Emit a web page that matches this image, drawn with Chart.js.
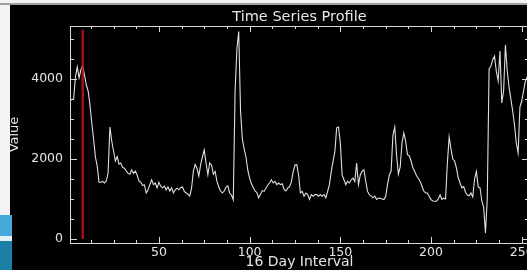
<!DOCTYPE html>
<html><head><meta charset="utf-8">
<script src="https://cdn.jsdelivr.net/npm/chart.js@4.4.0/dist/chart.umd.min.js"></script>
<style>
html,body{margin:0;padding:0;width:527px;height:270px;overflow:hidden;background:#f3f3f3;}
#wrap{position:absolute;left:10px;top:5px;width:540px;height:265px;background:#000;}
#topline{position:absolute;left:0;top:3px;width:527px;height:2px;background:#a0a0a0;}
#b1{position:absolute;left:0;top:215px;width:12px;height:21px;background:#45a9d9;}
#b2{position:absolute;left:0;top:236px;width:12px;height:5px;background:#e4f1f6;}
#b3{position:absolute;left:0;top:241px;width:12px;height:29px;background:#1c7fa6;}
</style></head>
<body>
<div id="topline"></div>
<div id="wrap"><canvas id="c" width="540" height="265"></canvas></div>
<div id="b1"></div><div id="b2"></div><div id="b3"></div>
<script>
const values = [
3480,3480,3500,4050,4300,4030,4230,4320,4100,3850,
3700,3350,2900,2500,2050,1820,1420,1420,1440,1400,
1450,1650,2800,2450,2200,1950,2060,1870,1900,1790,
1770,1700,1640,1620,1730,1640,1700,1600,1450,1420,
1340,1350,1150,1230,1360,1480,1360,1400,1280,1420,
1320,1280,1320,1230,1300,1200,1280,1150,1230,1270,
1230,1290,1300,1190,1150,1120,1070,1270,1700,1860,
1770,1570,1860,2050,2230,1900,1610,1900,1850,1620,
1690,1440,1300,1200,1150,1200,1300,1330,1150,1100,
980,3700,4750,5190,3200,2500,2250,2050,1720,1520,
1380,1290,1200,1160,1030,1120,1210,1190,1270,1350,
1400,1480,1400,1440,1360,1400,1360,1380,1240,1200,
1270,1310,1420,1680,1850,1860,1600,1150,1190,1070,
1150,1110,990,1110,1070,1110,1110,1070,1110,1070,
1110,1030,1190,1360,1690,1940,2190,2780,2800,2400,
1600,1480,1360,1440,1400,1480,1520,1440,1900,1360,
1600,1690,1730,1450,1190,1110,1070,1030,1070,990,
1025,1020,1000,985,1060,1360,1600,1700,2600,2800,
2100,1620,1800,2400,2650,2450,2110,2080,1950,1780,
1690,1580,1520,1440,1320,1200,1150,1150,1070,985,
950,945,945,1000,1100,990,1020,1000,1900,2550,
2250,2000,1950,1780,1530,1400,1280,1310,1170,1100,
1080,1150,1050,1500,1690,1300,1280,950,800,150,
1000,4250,4320,4480,4570,4190,3950,4700,3400,3700,
4850,4200,3800,3500,3200,2850,2400,2150,3300,3450,
3700,3950,4050
];
const intervals = values.map((v, i) => i + 1);
const xTicks = [50, 100, 150, 200, 250];
const yTicks = [0, 2000, 4000];
const xRange = [1, 254];
const yRange = [-100, 5325];
const markerX = 8;
const markerSpan = [0, 5230];

const TXT = '#e6e6e6';
const AX = '#d8d8d8';
const FONT = {family: 'DejaVu Sans', size: 12.5, weight: 'normal', lineHeight: 1};
const TITLE_FONT = {family: 'DejaVu Sans', size: 14.5, weight: 'normal', lineHeight: 1};
const XTITLE_FONT = {family: 'DejaVu Sans', size: 14, weight: 'normal', lineHeight: 1};
const YTITLE_FONT = {family: 'DejaVu Sans', size: 13, weight: 'normal', lineHeight: 1};

const boxTicks = {
  id: 'boxTicks',
  afterDraw(chart) {
    const {ctx, chartArea: a, scales: {x, y}} = chart;
    ctx.save();
    ctx.strokeStyle = AX; ctx.lineWidth = 1;
    ctx.strokeRect(Math.round(a.left) + 0.5, Math.round(a.top) + 0.5, Math.round(a.right - a.left), Math.round(a.bottom - a.top));
    ctx.beginPath();
    const xStep = 12.5, yStep = 500;
    for (let v = Math.ceil(x.min / xStep) * xStep; v <= x.max; v += xStep) {
      const px = Math.round(x.getPixelForValue(v)) + 0.5;
      const len = (v % 50 === 0) ? 6 : 3;
      ctx.moveTo(px, a.bottom); ctx.lineTo(px, a.bottom - len);
      ctx.moveTo(px, a.top); ctx.lineTo(px, a.top + len);
    }
    for (let v = Math.ceil(y.min / yStep) * yStep; v <= y.max; v += yStep) {
      const py = Math.round(y.getPixelForValue(v)) + 0.5;
      const len = (v % 2000 === 0) ? 7 : 4;
      ctx.moveTo(a.left, py); ctx.lineTo(a.left + len, py);
      ctx.moveTo(a.right, py); ctx.lineTo(a.right - len, py);
    }
    ctx.stroke();
    ctx.restore();
  }
};

new Chart(document.getElementById('c'), {
  type: 'line',
  data: {
    datasets: [
      {
        data: values.map((v, i) => ({x: intervals[i], y: v})),
        borderColor: '#e0e0e0', borderWidth: 1.1, pointRadius: 0, tension: 0, order: 2
      },
      {
        data: [{x: markerX, y: markerSpan[0]}, {x: markerX, y: markerSpan[1]}],
        borderColor: 'rgba(190,20,28,0.85)', borderWidth: 2.5, pointRadius: 0, order: 1
      }
    ]
  },
  options: {
    responsive: false, animation: false, devicePixelRatio: 1,
    layout: {padding: {left: 0, right: 21, top: 0, bottom: 0}},
    plugins: {
      legend: {display: false}, tooltip: {enabled: false},
      title: {display: true, text: 'Time Series Profile', color: TXT, fullSize: false,
        font: TITLE_FONT, padding: {top: 4.5, bottom: 2}}
    },
    scales: {
      x: {
        type: 'linear', min: xRange[0], max: xRange[1],
        grid: {display: false, drawTicks: false}, border: {display: false},
        afterBuildTicks: s => { s.ticks = xTicks.map(v => ({value: v})); },
        afterFit: s => { s.height = 27; },
        ticks: {color: TXT, font: FONT, padding: 3, maxRotation: 0, autoSkip: false, callback: v => String(v)},
        title: {display: true, text: '16 Day Interval', color: TXT, font: XTITLE_FONT, padding: {top: 0, bottom: 0.5}}
      },
      y: {
        type: 'linear', min: yRange[0], max: yRange[1],
        grid: {display: false, drawTicks: false}, border: {display: false},
        afterBuildTicks: s => { s.ticks = yTicks.map(v => ({value: v})); },
        afterFit: s => { s.width = 60; },
        ticks: {color: TXT, font: FONT, padding: 7, callback: v => String(v)},
        title: {display: true, text: 'Value', color: TXT, font: YTITLE_FONT, padding: {top: -1.5, bottom: 0}}
      }
    }
  },
  plugins: [boxTicks]
});
</script>
</body></html>
